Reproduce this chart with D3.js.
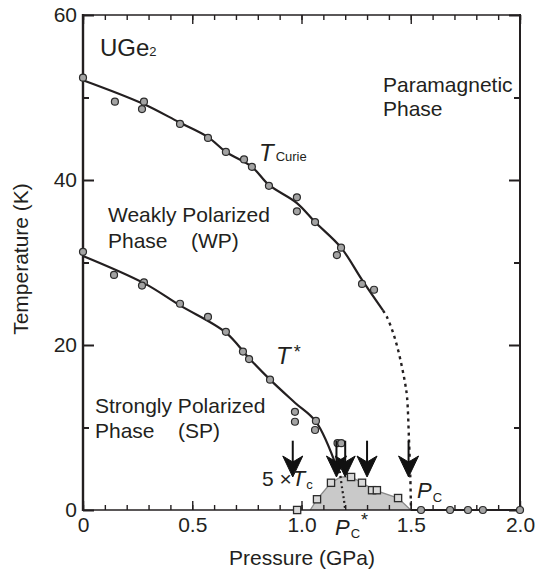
<!DOCTYPE html>
<html>
<head>
<meta charset="utf-8">
<script src="https://cdn.jsdelivr.net/npm/d3@7"></script>
<style>
  html, body { margin: 0; padding: 0; background: #fff; }
  svg { display: block; font-family: "Liberation Sans", Arial, Helvetica, sans-serif; }
</style>
</head>
<body>
<svg id="chart" width="536" height="576"></svg>
<script>
// ---- Curie temperature (ferromagnetic onset), measured points
const curieP = [0, 0.146, 0.279, 0.270, 0.444, 0.572, 0.654, 0.737, 0.773, 0.851, 0.979, 0.979, 1.062, 1.181, 1.162, 1.277, 1.332];
const curieT = [52.4, 49.5, 49.5, 48.6, 46.8, 45.1, 43.4, 42.5, 41.6, 39.3, 37.9, 36.2, 34.9, 31.8, 30.9, 27.4, 26.7];

// ---- T* (WP -> SP crossover), measured points
const starP = [0, 0.142, 0.279, 0.270, 0.444, 0.572, 0.654, 0.732, 0.760, 0.856, 0.970, 0.970, 1.066, 1.062, 1.165, 1.182];
const starT = [31.3, 28.5, 27.6, 27.2, 25.0, 23.4, 21.6, 19.2, 18.3, 15.8, 11.9, 10.7, 10.8, 9.7, 8.1, 8.1];

// ---- superconducting transition, plotted as 5 x Tc
const scP = [0.98, 1.071, 1.135, 1.227, 1.277, 1.323, 1.345, 1.442];
const scT5 = [0, 1.3, 3.3, 4.0, 3.3, 2.4, 2.4, 1.45];

// ---- paramagnetic ground state points (no order down to lowest T)
const paraP = [1.547, 1.68, 1.762, 1.83, 2.0];
const paraT = [0, 0, 0, 0, 0];

// ---- guide-to-the-eye lines
const curieLineP = [0, 0.27, 0.44, 0.572, 0.654, 0.773, 0.851, 0.979, 1.062, 1.181, 1.277, 1.373];
const curieLineT = [52.1, 49.3, 47.0, 45.2, 43.4, 41.6, 39.4, 37.2, 34.9, 31.8, 27.9, 24.2];
const curieDotP = [1.373, 1.391, 1.419, 1.442, 1.46, 1.474, 1.483, 1.492, 1.498, 1.501];
const curieDotT = [24.2, 23.4, 21.5, 19.4, 17.3, 15.4, 13.7, 8.5, 4.0, 0];
const starLineP = [0, 0.279, 0.444, 0.654, 0.76, 0.856, 0.97, 1.066, 1.165];
const starLineT = [30.8, 27.5, 24.8, 21.5, 18.4, 15.8, 13.0, 10.7, 4.9];
const starDotP = [1.175, 1.186, 1.195, 1.2];
const starDotT = [4.7, 2.6, 1.1, 0];

// ---- superconducting dome outline
const domeP = [1.04, 1.071, 1.135, 1.18, 1.227, 1.277, 1.335, 1.442, 1.5];
const domeT = [0, 1.3, 3.3, 4.0, 4.0, 3.3, 2.4, 1.45, 0];

// ---- pressures marked by arrows
const arrowP = [0.96, 1.16, 1.20, 1.30, 1.49];

// ---- axis ticks
const xMajor = [0, 0.5, 1.0, 1.5, 2.0];
const xMajorLabels = ["0", "0.5", "1.0", "1.5", "2.0"];
const xMinor = d3.range(0, 21).map(i => i / 10);
const yMajor = [0, 20, 40, 60];
const yMinor = [10, 30, 50];

const svg = d3.select("#chart");
const X0 = 83, X1 = 520, Y0 = 510, Y1 = 15;
const x = d3.scaleLinear().domain([0, 2]).range([X0, X1]);
const y = d3.scaleLinear().domain([0, 60]).range([Y0, Y1]);
const ink = "#231f20";
const FS = 21;

const zip = (a, b) => a.map((v, i) => [v, b[i]]);
const line = d3.line().x(d => x(d[0])).y(d => y(d[1])).curve(d3.curveCatmullRom.alpha(0.5));

// superconducting dome
svg.append("path")
  .attr("d", d3.line().x(d => x(d[0])).y(d => y(d[1]))(zip(domeP, domeT)))
  .attr("fill", "#c9c9c9").attr("stroke", "#8a8a8a").attr("stroke-width", 1.3);

// axes: ticks inward on all four sides
function axisGroup(gen, tx, ty) {
  const g = svg.append("g").attr("transform", `translate(${tx},${ty})`).call(gen);
  g.select(".domain").remove();
  g.selectAll("line").attr("stroke", ink).attr("stroke-width", 1.4);
  g.selectAll("text").attr("fill", ink).attr("font-size", FS).attr("font-family", "Liberation Sans, Arial, sans-serif");
  return g;
}
axisGroup(d3.axisBottom(x).tickValues(xMinor).tickSize(-5).tickFormat(""), 0, Y0);
axisGroup(d3.axisBottom(x).tickValues(xMajor).tickSize(-9).tickPadding(7).tickFormat((d, i) => xMajorLabels[i]), 0, Y0);
axisGroup(d3.axisTop(x).tickValues(xMinor).tickSize(-5).tickFormat(""), 0, Y1);
axisGroup(d3.axisTop(x).tickValues(xMajor).tickSize(-9).tickFormat(""), 0, Y1);
axisGroup(d3.axisLeft(y).tickValues(yMajor).tickSize(-11).tickPadding(6).tickFormat(d3.format("d")), X0, 0)
  .selectAll("line").attr("stroke-width", 2);
axisGroup(d3.axisLeft(y).tickValues(yMinor).tickSize(-6).tickFormat(""), X0, 0)
  .selectAll("line").attr("stroke-width", 2);
axisGroup(d3.axisRight(y).tickValues(yMajor).tickSize(-11).tickFormat(""), X1, 0)
  .selectAll("line").attr("stroke-width", 2);
axisGroup(d3.axisRight(y).tickValues(yMinor).tickSize(-6).tickFormat(""), X1, 0)
  .selectAll("line").attr("stroke-width", 2);

// frame
svg.append("line").attr("x1", X0).attr("x2", X1).attr("y1", Y1).attr("y2", Y1).attr("stroke", ink).attr("stroke-width", 1.3);
svg.append("line").attr("x1", X0).attr("x2", X1).attr("y1", Y0).attr("y2", Y0).attr("stroke", ink).attr("stroke-width", 1.6);
svg.append("line").attr("x1", X0).attr("x2", X0).attr("y1", Y1 - 1).attr("y2", Y0 + 1).attr("stroke", ink).attr("stroke-width", 2.4);
svg.append("line").attr("x1", X1).attr("x2", X1).attr("y1", Y1 - 1).attr("y2", Y0 + 1).attr("stroke", ink).attr("stroke-width", 2);

// paramagnetic baseline from Pc to 2 GPa
svg.append("line").attr("x1", x(1.5)).attr("x2", x(2.0)).attr("y1", y(0)).attr("y2", y(0))
  .attr("stroke", ink).attr("stroke-width", 2.2);

// guide lines
svg.append("path").attr("d", line(zip(curieLineP, curieLineT)))
  .attr("fill", "none").attr("stroke", ink).attr("stroke-width", 2.2);
svg.append("path").attr("d", line(zip(curieDotP, curieDotT)))
  .attr("fill", "none").attr("stroke", ink).attr("stroke-width", 2.4).attr("stroke-dasharray", "3,4");
svg.append("path").attr("d", line(zip(starLineP, starLineT)))
  .attr("fill", "none").attr("stroke", ink).attr("stroke-width", 2.2);
svg.append("path").attr("d", line(zip(starDotP, starDotT)))
  .attr("fill", "none").attr("stroke", ink).attr("stroke-width", 2.2).attr("stroke-dasharray", "2,3");

// data markers
function circles(P, T) {
  svg.append("g").selectAll("circle").data(zip(P, T)).join("circle")
    .attr("cx", d => x(d[0])).attr("cy", d => y(d[1])).attr("r", 3.5)
    .attr("fill", "#a3a3a3").attr("stroke", "#2b2b2b").attr("stroke-width", 1.2);
}
circles(curieP, curieT);
circles(starP, starT);
circles(paraP, paraT);
svg.append("g").selectAll("rect").data(zip(scP, scT5)).join("rect")
  .attr("x", d => x(d[0]) - 3.6).attr("y", d => y(d[1]) - 3.6).attr("width", 7.2).attr("height", 7.2)
  .attr("fill", "#d9d9d9").attr("stroke", "#2b2b2b").attr("stroke-width", 1.3);

// arrows marking characteristic pressures
const arrowTopT = 8.4, arrowTipT = 4.0;
const ag = svg.append("g");
arrowP.forEach(p => {
  const cx = x(p), top = y(arrowTopT), tip = y(arrowTipT);
  ag.append("line").attr("x1", cx).attr("x2", cx).attr("y1", top).attr("y2", tip - 8)
    .attr("stroke", "#111").attr("stroke-width", 2);
  ag.append("path")
    .attr("d", `M${cx},${tip} L${cx - 10},${tip - 21} L${cx},${tip - 15} L${cx + 10},${tip - 21} Z`)
    .attr("fill", "#111").attr("stroke", "#111").attr("stroke-width", 1).attr("stroke-linejoin", "round");
});

// text labels
function label(tx, ty, size) {
  return svg.append("text").attr("x", tx).attr("y", ty).attr("font-size", size).attr("fill", ink);
}
const t1 = label(100, 56, 24); t1.append("tspan").text("UGe");
t1.append("tspan").attr("font-size", 13).text("2");

const pm = label(383, 92, FS);
pm.append("tspan").attr("x", 383).text("Paramagnetic");
pm.append("tspan").attr("x", 383).attr("dy", 24).text("Phase");

const wp = label(108, 222, FS);
wp.append("tspan").attr("x", 108).text("Weakly Polarized");
wp.append("tspan").attr("x", 108).attr("dy", 26).text("Phase\u00a0\u00a0\u00a0\u00a0(WP)");

const sp = label(95, 413, FS);
sp.append("tspan").attr("x", 95).text("Strongly Polarized");
sp.append("tspan").attr("x", 95).attr("dy", 25).text("Phase\u00a0\u00a0\u00a0\u00a0(SP)");

const tc = label(259, 161, 24);
tc.append("tspan").attr("font-style", "italic").text("T");
tc.append("tspan").attr("font-size", 13).attr("dx", 2).text("Curie");

const ts = label(276, 364, 24);
ts.append("tspan").attr("font-style", "italic").text("T");
ts.append("tspan").attr("font-size", 18).attr("dx", 3).attr("dy", -6).text("*");

const t5 = label(262, 486, FS);
t5.append("tspan").text("5 \u00d7");
t5.append("tspan").attr("font-style", "italic").attr("font-size", 22).text("T");
t5.append("tspan").attr("font-size", 13).attr("dx", 1).attr("dy", 3).text("c");

const pc = label(417, 498, 22);
pc.append("tspan").attr("font-style", "italic").text("P");
pc.append("tspan").attr("font-size", 13).attr("dx", 1).attr("dy", 4).text("C");

const pcs = label(335, 535, 22);
pcs.append("tspan").attr("font-style", "italic").text("P");
pcs.append("tspan").attr("font-size", 13).attr("dx", 1).attr("dy", 3).text("C");
pcs.append("tspan").attr("font-size", 18).attr("dx", 1).attr("dy", -12).text("*");

// axis titles
label(302, 565, FS).attr("text-anchor", "middle").text("Pressure (GPa)");
label(0, 0, FS).attr("text-anchor", "middle")
  .attr("transform", "translate(28,259) rotate(-90)").text("Temperature (K)");
</script>
</body>
</html>
